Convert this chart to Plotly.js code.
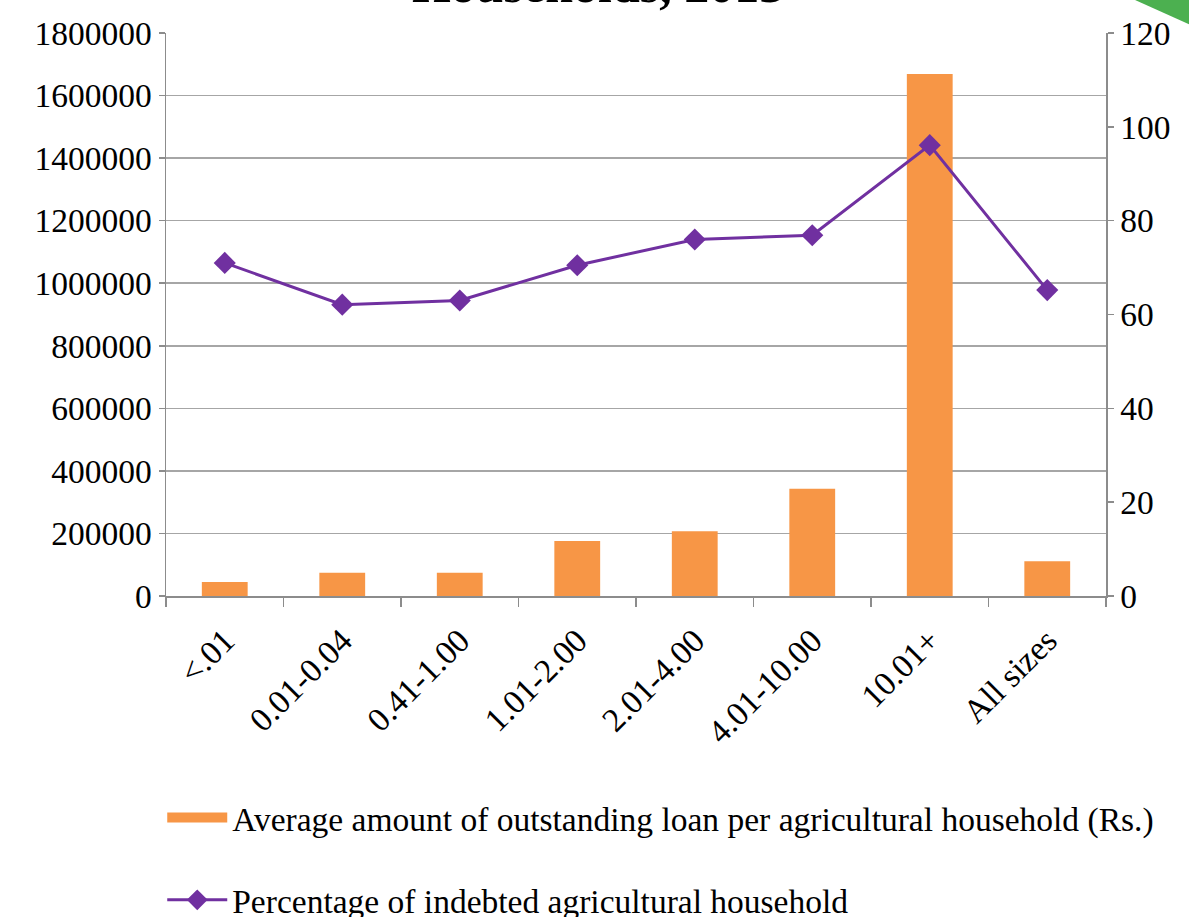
<!DOCTYPE html>
<html>
<head>
<meta charset="utf-8">
<script src="https://cdn.plot.ly/plotly-3.0.1.min.js"></script>
<style>html,body{margin:0;padding:0;background:#fff;}#chart{width:1189px;height:917px;}</style>
</head>
<body>
<div id="chart"></div>
<script>
const categories = ["<.01", "0.01-0.04", "0.41-1.00", "1.01-2.00", "2.01-4.00", "4.01-10.00", "10.01+", "All sizes"];
const loanAmount = [45000, 74500, 74500, 176000, 207000, 343000, 1669000, 111000];
const pctIndebted = [71.0, 62.1, 63.0, 70.5, 76.0, 76.9, 96.1, 65.2];
const loanName = "Average amount of outstanding loan per agricultural household (Rs.)";
const pctName = "Percentage of indebted agricultural household";
const titleText = "Households, 2013";

const FONT = "Liberation Serif, Times New Roman, serif";
const ORANGE = "#F79646";
const PURPLE = "#7030A0";
const GRID = "#A6A6A6";
const AXIS = "#8C8C8C";

const traces = [
  {
    type: "bar", x: categories, y: loanAmount, name: loanName,
    marker: {color: ORANGE}, showlegend: false, yaxis: "y", hoverinfo: "x+y"
  },
  {
    type: "scatter", mode: "lines", x: [categories[0]], y: [null], name: loanName,
    line: {color: ORANGE, width: 15}, legend: "legend", showlegend: true, hoverinfo: "skip"
  },
  {
    type: "scatter", mode: "lines+markers", x: categories, y: pctIndebted, name: pctName,
    line: {color: PURPLE, width: 3}, marker: {symbol: "diamond", size: 17, color: PURPLE},
    yaxis: "y2", legend: "legend2", showlegend: true
  }
];

const legendCommon = {
  orientation: "v", xanchor: "left", yanchor: "middle", bgcolor: "rgba(0,0,0,0)",
  font: {family: FONT, size: 33.5, color: "#000"}, itemwidth: 60, itemsizing: "trace"
};

const layout = {
  width: 1189, height: 917,
  margin: {l: 166, r: 83, t: 33, b: 321, pad: 0, autoexpand: false},
  paper_bgcolor: "#fff", plot_bgcolor: "#fff",
  font: {family: FONT, size: 33.5, color: "#000"},
  title: {text: "<b>" + titleText + "</b>", font: {family: FONT, size: 50, color: "#000"},
          x: 0.503, xanchor: "center", yref: "container", y: 0.9979, yanchor: "bottom",
          automargin: false},
  bargap: 0.61,
  xaxis: {
    type: "category", showline: true, linecolor: AXIS, linewidth: 1.5,
    ticks: "outside", tickson: "boundaries", ticklen: 9, tickcolor: AXIS, tickwidth: 1.5,
    tickangle: -45, ticklabelstandoff: 10, tickfont: {family: FONT, size: 33.5},
    showgrid: false, automargin: false
  },
  yaxis: {
    range: [0, 1800000], dtick: 200000, tickformat: "d",
    showline: true, linecolor: AXIS, linewidth: 1.5,
    ticks: "outside", ticklen: 6, tickcolor: AXIS, tickwidth: 1.5,
    showgrid: true, gridcolor: GRID, gridwidth: 1.5, zeroline: false,
    tickfont: {family: FONT, size: 33.5}, automargin: false
  },
  yaxis2: {
    range: [0, 120], dtick: 20, overlaying: "y", side: "right",
    showline: true, linecolor: AXIS, linewidth: 1.5,
    ticks: "outside", ticklen: 6, tickcolor: AXIS, tickwidth: 1.5,
    showgrid: false, zeroline: false, tickfont: {family: FONT, size: 33.5}, automargin: false
  },
  legend: Object.assign({}, legendCommon, {x: -0.004, y: -0.394}),
  legend2: Object.assign({}, legendCommon, {x: -0.004, y: -0.540}),
  shapes: [{
    type: "path", xref: "paper", yref: "paper",
    path: "M 1.0309 1.0586 L 1.09 1.0586 L 1.09 1.0142 Z",
    fillcolor: "#4CB050", line: {width: 0}, layer: "above"
  }],
  showlegend: true
};

Plotly.newPlot("chart", traces, layout, {displayModeBar: false, staticPlot: true});
</script>
</body>
</html>
